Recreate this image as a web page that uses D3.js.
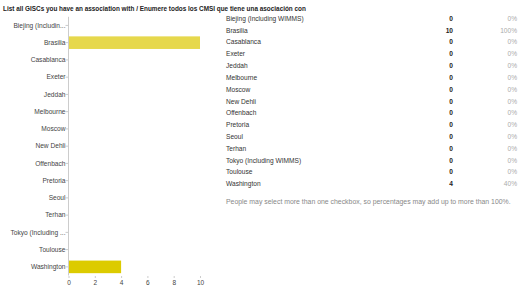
<!DOCTYPE html>
<html>
<head>
<meta charset="utf-8">
<script src="https://cdn.jsdelivr.net/npm/d3@7"></script>
<style>
  body { margin: 0; background: #fff; }
  svg { display: block; font-family: "Liberation Sans", Arial, sans-serif; }
</style>
</head>
<body>
<svg id="chart" width="519" height="285"></svg>
<script>
const title = "List all GISCs you have an association with / Enumere todos los CMSI que tiene una asociación con"

const categories = ["Biejing (Including WIMMS)", "Brasilia", "Casablanca", "Exeter", "Jeddah", "Melbourne",
  "Moscow", "New Dehli", "Offenbach", "Pretoria", "Seoul", "Terhan", "Tokyo (Including WIMMS)", "Toulouse", "Washington"]
const axisLabels = ["Biejing (Includin...", "Brasilia", "Casablanca", "Exeter", "Jeddah", "Melbourne",
  "Moscow", "New Dehli", "Offenbach", "Pretoria", "Seoul", "Terhan", "Tokyo (Including ...", "Toulouse", "Washington"]
const counts = [0, 10, 0, 0, 0, 0, 0, 0, 0, 0, 0, 0, 0, 0, 4]
const percents = ["0%", "100%", "0%", "0%", "0%", "0%", "0%", "0%", "0%", "0%", "0%", "0%", "0%", "0%", "40%"]
const xTicks = [0, 2, 4, 6, 8, 10]
const barColors = {"Brasilia": "#e6d84c", "Washington": "#dccb00"}
const note = "People may select more than one checkbox, so percentages may add up to more than 100%."

const svg = d3.select("#chart")

svg.append("text")
.attr("x", 3).attr("y", 11)
.style("font-size", "6.4px")
.style("font-weight", "bold")
.attr("fill", "#222")
.text(title)

// bar chart
let x = d3.scaleLinear()
.domain([0, 10])
.range([68.5, 200])

let y = d3.scaleBand()
.domain(categories)
.range([16.8, 275.5])
.paddingInner(0.27)
.paddingOuter(0.135)

let yAxis = d3.axisLeft(y)
.tickSize(3)
.tickFormat((d, i) => axisLabels[i])

let gy = svg.append("g")
.attr("transform", "translate(68.5,0)")
.call(yAxis)

gy.select(".domain").attr("stroke", "#ccc").attr("d", "M0,16.8V275.5")
gy.selectAll(".tick line").attr("stroke", "#ccc")
gy.selectAll(".tick text")
.attr("fill", "#444")
.style("font-size", "6.6px")
.style("font-family", "Liberation Sans, Arial, sans-serif")
.attr("x", -3)

let xAxis = d3.axisBottom(x)
.tickValues(xTicks)
.tickSize(2)

let gx = svg.append("g")
.attr("transform", "translate(0,276)")
.call(xAxis)

gx.select(".domain").remove()
gx.selectAll(".tick line").attr("stroke", "#ccc")
gx.selectAll(".tick text")
.attr("fill", "#444")
.attr("y", 4)
.style("font-size", "6.5px")
.style("font-family", "Liberation Sans, Arial, sans-serif")

svg.append("g")
.selectAll("rect")
.data(categories.map((c, i) => ({c, v: counts[i]})).filter(d => d.v > 0))
.enter()
.append("rect")
.attr("x", x(0) + 0.5)
.attr("y", d => y(d.c))
.attr("width", d => x(d.v) - x(0) - 0.5)
.attr("height", y.bandwidth())
.attr("fill", d => barColors[d.c])

// summary table
let rowY = d3.scalePoint()
.domain(categories)
.range([18.5, 184])

let table = svg.append("g")
.style("font-size", "6.6px")

let rows = table.selectAll("g")
.data(categories)
.enter()
.append("g")
.attr("transform", d => `translate(0,${rowY(d) + 2.3})`)

rows.append("text")
.attr("x", 226)
.attr("fill", "#333")
.text(d => d)

rows.append("text")
.attr("x", 453)
.attr("text-anchor", "end")
.attr("fill", "#222")
.style("font-weight", "bold")
.text((d, i) => counts[i])

rows.append("text")
.attr("x", 517)
.attr("text-anchor", "end")
.attr("fill", "#aaa")
.text((d, i) => percents[i])

svg.append("text")
.attr("x", 226).attr("y", 204)
.style("font-size", "6.9px")
.attr("fill", "#888")
.text(note)
</script>
</body>
</html>
